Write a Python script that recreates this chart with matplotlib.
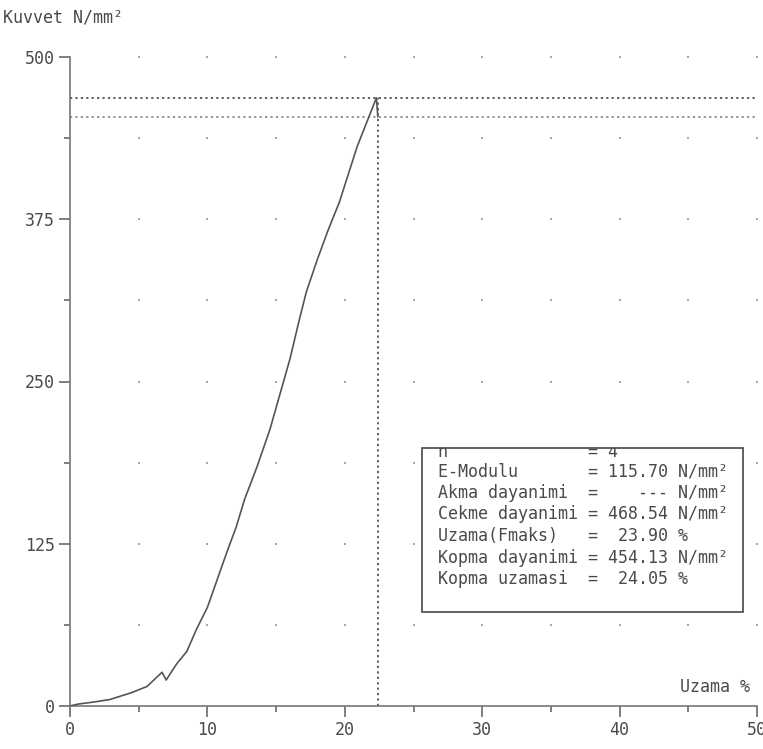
import matplotlib
matplotlib.use("Agg")
import matplotlib.pyplot as plt
from matplotlib.patches import Rectangle
from matplotlib.transforms import Bbox, TransformedBbox
import numpy as np

# ── Cekme deneyi verisi ───────────────────────────────────────────────
uzama  = [0, 0.6, 1.7, 2.9, 4.4, 5.6, 6.7, 7.0, 7.3, 7.8, 8.5, 9.2, 10.0,
          10.7, 11.4, 12.1, 12.7, 13.6, 14.55, 15.3, 16.0, 16.7, 17.2,
          18.0, 18.8, 19.6, 20.9, 22.3, 22.4]
kuvvet = [0, 1.5, 3, 5, 10, 15, 26, 20, 25, 33, 42, 59, 76,
          97, 118, 138, 159, 184, 213, 241, 267, 298, 319,
          344, 367, 388, 431, 468.54, 454.13]

cekme_dayanimi = 468.54
kopma_dayanimi = 454.13

x_ticks = [0, 10, 20, 30, 40, 50]
y_ticks = [0, 125, 250, 375, 500]

sonuc_adlari = ["E-Modulu", "Akma dayanimi", "Cekme dayanimi",
                "Uzama(Fmaks)", "Kopma dayanimi", "Kopma uzamasi"]
sonuc_deger  = ["115.70", "---", "468.54", "23.90", "454.13", "24.05"]
sonuc_birim  = ["N/mm²", "N/mm²", "N/mm²", "%", "N/mm²", "%"]

INK  = "#4a4a4a"
FONT = "DejaVu Sans Mono"

fig = plt.figure(figsize=(7.63, 7.49), dpi=100)
ax = fig.add_axes([70 / 763, 43 / 749, 687 / 763, 649 / 749])
ax.set_xlim(0, 50)
ax.set_ylim(0, 500)

for s in ("top", "right"):
    ax.spines[s].set_visible(False)
for s in ("left", "bottom"):
    ax.spines[s].set_color("#777777")
    ax.spines[s].set_linewidth(1.2)

ax.set_xticks(x_ticks)
ax.set_yticks(y_ticks)
ax.set_xticks(np.arange(5, 50, 10), minor=True)
ax.set_yticks(np.arange(62.5, 500, 125), minor=True)
ax.tick_params(which="major", direction="out", length=8, width=1.2,
               color="#6a6a6a", labelcolor=INK, labelsize=12, pad=3)
ax.tick_params(which="minor", direction="out", length=4, width=1.2,
               color="#6a6a6a")
for lab in ax.get_xticklabels() + ax.get_yticklabels():
    lab.set_fontfamily(FONT)

# nokta izgara
gx, gy = np.meshgrid(np.arange(5, 51, 5), np.arange(62.5, 501, 62.5))
ax.scatter(gx.ravel(), gy.ravel(), s=2.5, marker="s", color="#a8a8a8",
           linewidths=0, zorder=1, clip_on=False)

# gerilme-uzama egrisi
ax.plot(uzama, kuvvet, color="#555555", lw=1.2, zorder=3)

# Fmaks ve kopma yardimci cizgileri
dots = (0, (1.2, 1.8))
ax.plot([0, 50], [cekme_dayanimi] * 2, color="#505050", lw=1.3,
        linestyle=dots, clip_on=False)
ax.plot([0, 50], [kopma_dayanimi] * 2, color="#8a8a8a", lw=1.3,
        linestyle=dots, clip_on=False)
ax.plot([uzama[-1]] * 2, [0, cekme_dayanimi], color="#505050", lw=1.3,
        linestyle=dots)

# eksen basliklari
fig.text(3 / 763, 1 - 17 / 749, "Kuvvet N/mm²", fontsize=12,
         family=FONT, color=INK, va="center", ha="left")
ax.text(49.5, 8, "Uzama %", fontsize=12, family=FONT, color=INK,
        ha="right", va="bottom")

# sonuc kutusu
kx0, ky0, kx1, ky1 = 25.6, 72.5, 48.95, 199
kutu = Rectangle((kx0, ky0), kx1 - kx0, ky1 - ky0, facecolor="white",
                 edgecolor="#555555", lw=1.3, zorder=4)
ax.add_patch(kutu)

satir_y = ky1 - 1.6
ust = ax.text(26.8, ky1 - 3.0, "n".ljust(15) + "= 4", fontsize=12,
              family=FONT, color=INK, va="center", ha="left", zorder=5)
ust.set_clip_box(TransformedBbox(Bbox([[kx0, ky0], [kx1, ky1]]),
                                 ax.transData))
ust.set_clip_on(True)
for i, (ad, deger, birim) in enumerate(zip(sonuc_adlari, sonuc_deger,
                                            sonuc_birim)):
    satir = ad.ljust(15) + "= " + deger.rjust(6) + " " + birim
    ax.text(26.8, satir_y - 16.6 * (i + 1), satir, fontsize=12,
            family=FONT, color=INK, va="center", ha="left", zorder=5)

fig.savefig("out.png", dpi=100, facecolor="white")
